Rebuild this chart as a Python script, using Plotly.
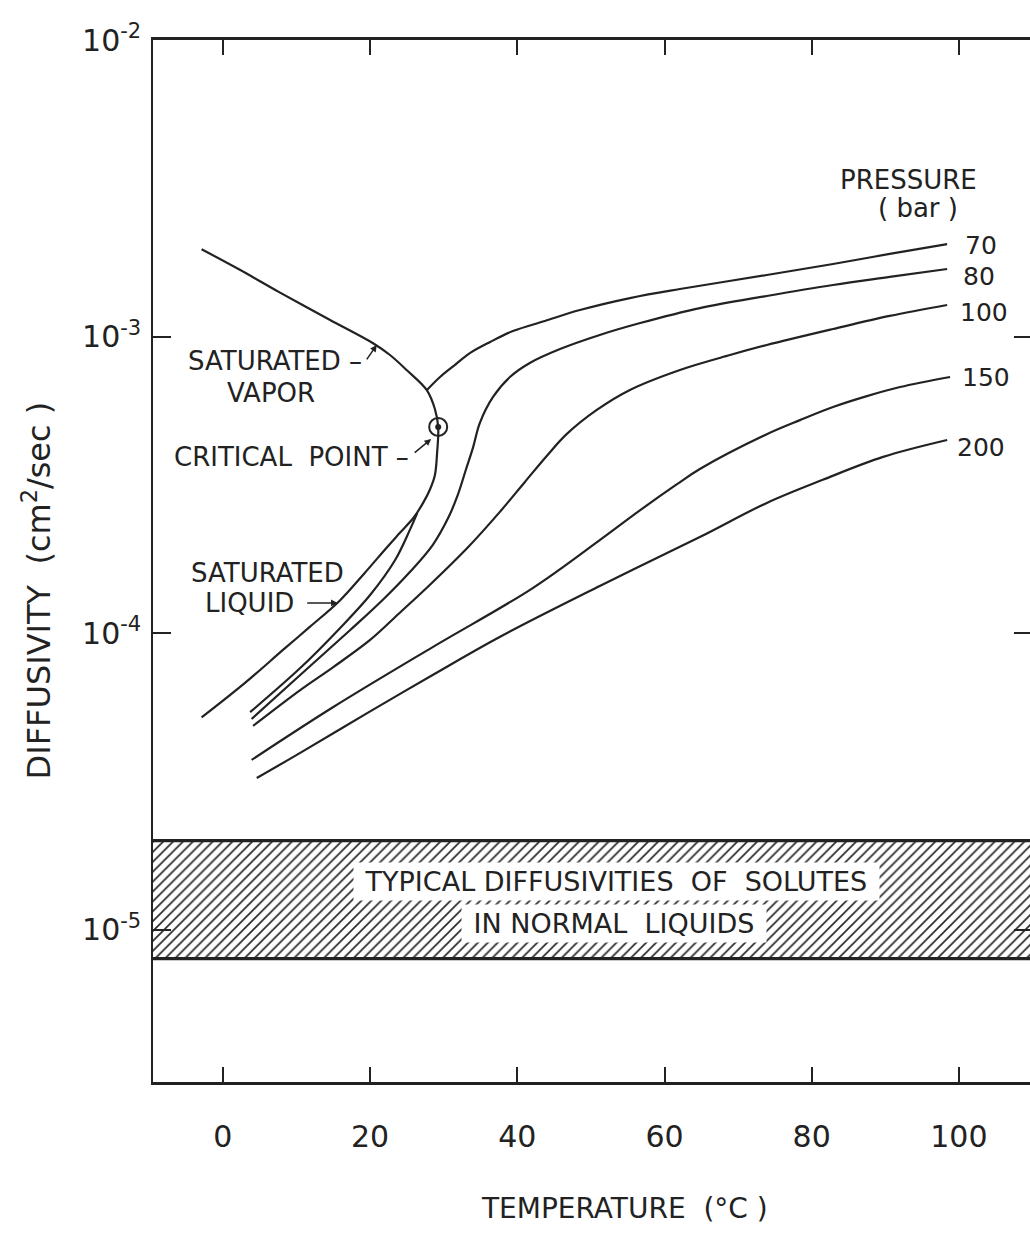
import math
import plotly.graph_objects as go

# ---- data: temperature (deg C) and diffusivity (cm^2/sec) ----
# saturation envelope: vapor branch down to the critical point, then liquid branch
sat_T = [-2.9, 2.3, 7.7, 14.5, 20.4, 22.7, 25.0, 27.7, 28.8, 29.25, 29.1, 28.8,
         28.1, 27.2, 25.95, 24.05, 22.3, 19.3, 15.9, 11.8, 8.2, 3.0, -2.9]
sat_D = [1.97e-3, 1.68e-3, 1.41e-3, 1.14e-3, 9.5e-4, 8.67e-4, 7.7e-4, 6.6e-4,
         5.7e-4, 4.96e-4, 4.05e-4, 3.41e-4, 3.04e-4, 2.75e-4, 2.46e-4, 2.18e-4,
         1.95e-4, 1.6e-4, 1.29e-4, 1.05e-4, 8.8e-5, 6.8e-5, 5.2e-5]

crit_T = 29.25
crit_D = 4.96e-4

# 70 bar isobar (subcritical): vapor branch and liquid branch
p70_vap_T = [27.7, 29.5, 31.5, 33.6, 36.3, 39.4, 43.75, 48.5, 55.3, 62.1, 73.9,
             82.9, 90.6, 98.4]
p70_vap_D = [6.6e-4, 7.31e-4, 8.02e-4, 8.81e-4, 9.59e-4, 1.044e-3, 1.129e-3,
             1.229e-3, 1.349e-3, 1.447e-3, 1.613e-3, 1.757e-3, 1.9e-3, 2.05e-3]
p70_liq_T = [3.7, 10.5, 15.9, 20.0, 23.4, 25.4, 26.4]
p70_liq_D = [5.42e-5, 7.63e-5, 1.04e-4, 1.345e-4, 1.765e-4, 2.23e-4, 2.54e-4]

p80_T = [3.9, 10.5, 17.3, 21.7, 25.4, 28.5, 30.6, 31.9, 33.0, 34.0, 34.9, 36.7,
         39.0, 41.7, 45.8, 51.2, 56.7, 64.8, 73.9, 82.9, 90.6, 98.4]
p80_D = [5.14e-5, 7.23e-5, 1.025e-4, 1.294e-4, 1.608e-4, 1.983e-4, 2.445e-4,
         2.92e-4, 3.55e-4, 4.24e-4, 5.11e-4, 6.26e-4, 7.31e-4, 8.15e-4, 9.08e-4,
         1.013e-3, 1.111e-3, 1.248e-3, 1.371e-3, 1.493e-3, 1.589e-3, 1.69e-3]

p100_T = [4.1, 10.5, 15.0, 20.0, 24.0, 28.1, 33.2, 37.6, 41.0, 44.0, 46.7, 50.8,
          55.3, 62.1, 68.9, 73.9, 82.9, 90.6, 98.4]
p100_D = [4.87e-5, 6.43e-5, 7.69e-5, 9.49e-5, 1.17e-4, 1.454e-4, 1.937e-4,
          2.56e-4, 3.23e-4, 3.96e-4, 4.69e-4, 5.66e-4, 6.61e-4, 7.72e-4, 8.67e-4,
          9.37e-4, 1.061e-3, 1.174e-3, 1.278e-3]

p150_T = [3.9, 15.0, 28.5, 42.1, 51.2, 56.7, 61.7, 64.8, 73.9, 78.4, 82.9, 87.5,
          92.0, 98.8]
p150_D = [3.74e-5, 5.64e-5, 8.98e-5, 1.42e-4, 2.06e-4, 2.6e-4, 3.18e-4, 3.58e-4,
          4.69e-4, 5.23e-4, 5.79e-4, 6.3e-4, 6.76e-4, 7.31e-4]

p200_T = [4.6, 10.5, 19.6, 28.5, 37.6, 51.2, 64.8, 73.9, 81.5, 89.7, 98.4]
p200_D = [3.25e-5, 3.95e-5, 5.38e-5, 7.23e-5, 9.71e-5, 1.442e-4, 2.11e-4,
          2.75e-4, 3.29e-4, 3.93e-4, 4.48e-4]

pressure_labels = ["70", "80", "100", "150", "200"]

# range of solute diffusivities in ordinary liquids
band_low = 8e-6
band_high = 2e-5

x_ticks = [0, 20, 40, 60, 80, 100]
y_ticks = [1e-5, 1e-4, 1e-3, 1e-2]
y_tick_text = ["10<sup>-5</sup>", "10<sup>-4</sup>", "10<sup>-3</sup>", "10<sup>-2</sup>"]

# ---- figure ----
X_RANGE = [-9.5, 109.66]
Y_RANGE = [-5.513, -2.0]
INK = "#222222"
FONT = "DejaVu Sans"

fig = go.Figure()

# hatched band
fig.add_trace(go.Scatter(
    x=[X_RANGE[0], X_RANGE[1], X_RANGE[1], X_RANGE[0], X_RANGE[0]],
    y=[band_low, band_low, band_high, band_high, band_low],
    mode="lines", fill="toself", line=dict(width=0),
    fillcolor="white",
    fillpattern=dict(shape="/", size=7, solidity=0.24, fgcolor="#2a2a2a",
                     bgcolor="white", fillmode="replace"),
    hoverinfo="skip", showlegend=False))
for edge in (band_low, band_high):
    fig.add_trace(go.Scatter(x=X_RANGE, y=[edge, edge], mode="lines",
                             line=dict(color=INK, width=3.2),
                             hoverinfo="skip", showlegend=False))

curve_line = dict(color=INK, width=2.2, shape="spline", smoothing=1.0)

fig.add_trace(go.Scatter(x=sat_T, y=sat_D, mode="lines", line=curve_line,
                         name="saturation", showlegend=False))

isobars = [
    (pressure_labels[0], p70_vap_T, p70_vap_D),
    (pressure_labels[1], p80_T, p80_D),
    (pressure_labels[2], p100_T, p100_D),
    (pressure_labels[3], p150_T, p150_D),
    (pressure_labels[4], p200_T, p200_D),
]
for name, xs, ys in isobars:
    fig.add_trace(go.Scatter(x=xs, y=ys, mode="lines", line=curve_line,
                             name=f"{name} bar", showlegend=False))
fig.add_trace(go.Scatter(x=p70_liq_T, y=p70_liq_D, mode="lines", line=curve_line,
                         name="70 bar liquid", showlegend=False))

# critical point: open ring with a solid centre
fig.add_trace(go.Scatter(x=[crit_T], y=[crit_D], mode="markers",
                         marker=dict(symbol="circle-open", size=18, color=INK,
                                     line=dict(width=2, color=INK)),
                         showlegend=False))
fig.add_trace(go.Scatter(x=[crit_T], y=[crit_D], mode="markers",
                         marker=dict(symbol="circle", size=6, color=INK),
                         hoverinfo="skip", showlegend=False))
# carries the right-hand tick axis
fig.add_trace(go.Scatter(x=[crit_T], y=[crit_D], mode="markers", yaxis="y2",
                         marker=dict(opacity=0), hoverinfo="skip", showlegend=False))

annotations = []


def label(text, x, logy, size=26, xanchor="center", **kw):
    annotations.append(dict(text=text, x=x, y=logy, xref="x", yref="y",
                            showarrow=False, xanchor=xanchor, yanchor="middle",
                            font=dict(size=size, family=FONT, color=INK), **kw))


def arrow(x, logy, ax, ay, head=2):
    annotations.append(dict(text="", x=x, y=logy, xref="x", yref="y",
                            showarrow=True, ax=ax, ay=ay, arrowhead=head,
                            arrowsize=0.9, arrowwidth=1.5, arrowcolor=INK))


# pressure labels at the right-hand end of each isobar
label_shift = [(16, -1), (14, -7), (11, -7), (10, -1), (8, -7)]
for (name, xs, ys), (dx, dy) in zip(isobars, label_shift):
    label(name, xs[-1], math.log10(ys[-1]), size=25, xanchor="left",
          xshift=dx, yshift=dy)
label("PRESSURE", 93.1, -2.472)
label("(\u00a0bar\u00a0)", 94.4, -2.566)

# saturation / critical point callouts
label("SATURATED\u00a0\u2013", -5.0, -3.082, xanchor="left")
label("VAPOR", 6.5, -3.190)
arrow(20.9, -3.028, -11, 16)
label("CRITICAL\u00a0 POINT\u00a0\u2013", -6.9, -3.406, xanchor="left")
arrow(28.3, -3.345, -18, 15)
label("SATURATED", 6.1, -3.797)
label("LIQUID", -2.7, -3.898, xanchor="left")
arrow(15.6, -3.898, -32, 0)

# band caption
label("\u00a0TYPICAL DIFFUSIVITIES\u00a0 OF\u00a0 SOLUTES\u00a0", 53.5, -4.836,
      size=27, bgcolor="white", borderpad=3)
label("\u00a0IN NORMAL\u00a0 LIQUIDS\u00a0", 53.1, -4.980,
      size=27, bgcolor="white", borderpad=3)

# axis titles
annotations.append(dict(text="TEMPERATURE\u00a0 (\u00b0C\u00a0)", x=0.538, y=-0.121,
                        xref="paper", yref="paper", showarrow=False,
                        xanchor="center", yanchor="middle",
                        font=dict(size=28, family=FONT, color=INK)))
annotations.append(dict(text="DIFFUSIVITY\u00a0 (cm<sup>2</sup>/sec\u00a0)", x=-0.132,
                        y=0.472, xref="paper", yref="paper", showarrow=False,
                        textangle=-90, xanchor="center", yanchor="middle",
                        font=dict(size=32, family=FONT, color=INK)))

fig.update_layout(
    width=1030, height=1246,
    margin=dict(l=153, r=0, t=40, b=164),
    plot_bgcolor="white", paper_bgcolor="white",
    showlegend=False,
    font=dict(family=FONT, color=INK),
    annotations=annotations,
    xaxis=dict(range=X_RANGE, showline=True, linecolor=INK, linewidth=3,
               mirror="ticks", ticks="inside", ticklen=15, tickwidth=1.5,
               tickcolor=INK, tickvals=x_ticks, showgrid=False, zeroline=False,
               tickfont=dict(size=30, family=FONT, color=INK),
               ticklabelstandoff=26),
    yaxis=dict(type="log", range=Y_RANGE, showline=True, linecolor=INK,
               linewidth=1.5, ticks="inside", ticklen=18, tickwidth=2,
               tickcolor=INK, tickvals=y_ticks, ticktext=y_tick_text,
               showgrid=False, zeroline=False,
               tickfont=dict(size=30, family=FONT, color=INK),
               ticklabelstandoff=4),
    yaxis2=dict(type="log", range=Y_RANGE, overlaying="y", side="right",
                showline=False, ticks="inside", ticklen=16, tickwidth=2,
                tickcolor=INK, tickvals=y_ticks[:3], showticklabels=False,
                showgrid=False, zeroline=False),
)

fig.write_html("out.html")
